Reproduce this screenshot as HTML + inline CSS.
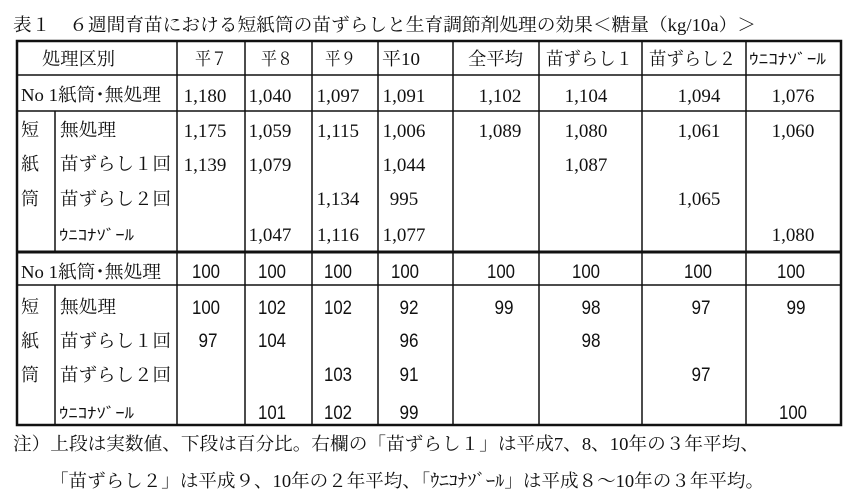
<!DOCTYPE html>
<html><head><meta charset="utf-8"><style>
html,body{margin:0;padding:0;background:#fff;}
svg{display:block}
.t{font-family:"Liberation Serif","Noto Serif CJK JP","Noto Serif CJK SC",serif;font-size:18px;fill:#111}
.n{font-family:"Liberation Serif",serif;font-size:19px;fill:#111;text-anchor:middle}
.s{font-family:"Liberation Sans",sans-serif;font-size:19px;fill:#111;text-anchor:middle}
.k{font-family:"Liberation Sans","Noto Sans CJK JP",sans-serif;font-size:15px;fill:#111}
</style></head><body>
<svg width="862" height="500" viewBox="0 0 862 500">
<text class="t" x="13" y="31" textLength="743" lengthAdjust="spacingAndGlyphs">表１　６週間育苗における短紙筒の苗ずらしと生育調節剤処理の効果＜糖量（kg/10a）＞</text>
<g stroke="#111" fill="none">
<rect x="17" y="41" width="824" height="384" stroke-width="2.5"/>
<line x1="17" y1="75" x2="841" y2="75" stroke-width="1.5"/>
<line x1="17" y1="111" x2="841" y2="111" stroke-width="1.5"/>
<line x1="17" y1="252" x2="841" y2="252" stroke-width="3"/>
<line x1="17" y1="285" x2="841" y2="285" stroke-width="1.5"/>
<line x1="55" y1="111" x2="55" y2="252" stroke-width="1.5"/>
<line x1="55" y1="285" x2="55" y2="425" stroke-width="1.5"/>
<g stroke-width="1.5">
<line x1="177" y1="41" x2="177" y2="425"/><line x1="245" y1="41" x2="245" y2="425"/>
<line x1="312" y1="41" x2="312" y2="425"/><line x1="378" y1="41" x2="378" y2="425"/>
<line x1="453" y1="41" x2="453" y2="425"/><line x1="539" y1="41" x2="539" y2="425"/>
<line x1="642" y1="41" x2="642" y2="425"/><line x1="746" y1="41" x2="746" y2="425"/>
</g></g>
<!-- header -->
<text class="t" x="42" y="65" textLength="73" lengthAdjust="spacingAndGlyphs">処理区別</text>
<text class="t" x="195" y="65" textLength="32" lengthAdjust="spacingAndGlyphs">平７</text>
<text class="t" x="261" y="65" textLength="32" lengthAdjust="spacingAndGlyphs">平８</text>
<text class="t" x="325" y="65" textLength="31" lengthAdjust="spacingAndGlyphs">平９</text>
<text class="t" x="382" y="65" textLength="38" lengthAdjust="spacingAndGlyphs">平10</text>
<text class="t" x="468" y="65" textLength="55" lengthAdjust="spacingAndGlyphs">全平均</text>
<text class="t" x="546" y="65" textLength="87" lengthAdjust="spacingAndGlyphs">苗ずらし１</text>
<text class="t" x="649" y="65" textLength="87" lengthAdjust="spacingAndGlyphs">苗ずらし２</text>
<text class="k" x="749" y="64" textLength="77" lengthAdjust="spacingAndGlyphs">ｳﾆｺﾅｿﾞｰﾙ</text>
<!-- row labels upper -->
<text class="t" x="21" y="101" textLength="140" lengthAdjust="spacingAndGlyphs">No 1紙筒･無処理</text>
<text class="t" x="21" y="136">短</text><text class="t" x="21" y="170">紙</text><text class="t" x="21" y="205">筒</text>
<text class="t" x="60" y="136" textLength="56" lengthAdjust="spacingAndGlyphs">無処理</text>
<text class="t" x="60" y="170" textLength="111" lengthAdjust="spacingAndGlyphs">苗ずらし１回</text>
<text class="t" x="60" y="205" textLength="111" lengthAdjust="spacingAndGlyphs">苗ずらし２回</text>
<text class="k" x="59" y="240" textLength="75" lengthAdjust="spacingAndGlyphs">ｳﾆｺﾅｿﾞｰﾙ</text>
<!-- row labels lower -->
<text class="t" x="21" y="278" textLength="140" lengthAdjust="spacingAndGlyphs">No 1紙筒･無処理</text>
<text class="t" x="21" y="313">短</text><text class="t" x="21" y="347">紙</text><text class="t" x="21" y="381">筒</text>
<text class="t" x="60" y="313" textLength="56" lengthAdjust="spacingAndGlyphs">無処理</text>
<text class="t" x="60" y="347" textLength="111" lengthAdjust="spacingAndGlyphs">苗ずらし１回</text>
<text class="t" x="60" y="381" textLength="111" lengthAdjust="spacingAndGlyphs">苗ずらし２回</text>
<text class="k" x="59" y="418" textLength="75" lengthAdjust="spacingAndGlyphs">ｳﾆｺﾅｿﾞｰﾙ</text>
<!-- upper numbers -->
<g class="n">
<text x="205" y="102">1,180</text><text x="270" y="102">1,040</text><text x="338" y="102">1,097</text><text x="404" y="102">1,091</text>
<text x="500" y="102">1,102</text><text x="586" y="102">1,104</text><text x="699" y="102">1,094</text><text x="793" y="102">1,076</text>
<text x="205" y="137">1,175</text><text x="270" y="137">1,059</text><text x="338" y="137">1,115</text><text x="404" y="137">1,006</text>
<text x="500" y="137">1,089</text><text x="586" y="137">1,080</text><text x="699" y="137">1,061</text><text x="793" y="137">1,060</text>
<text x="205" y="171">1,139</text><text x="270" y="171">1,079</text><text x="404" y="171">1,044</text><text x="586" y="171">1,087</text>
<text x="338" y="205">1,134</text><text x="404" y="205">995</text><text x="699" y="205">1,065</text>
<text x="270" y="241">1,047</text><text x="338" y="241">1,116</text><text x="404" y="241">1,077</text><text x="793" y="241">1,080</text>
</g>
<!-- lower numbers -->
<g class="s">
<text x="206" y="278" textLength="28" lengthAdjust="spacingAndGlyphs">100</text><text x="272" y="278" textLength="28" lengthAdjust="spacingAndGlyphs">100</text>
<text x="338" y="278" textLength="28" lengthAdjust="spacingAndGlyphs">100</text><text x="405" y="278" textLength="28" lengthAdjust="spacingAndGlyphs">100</text>
<text x="501" y="278" textLength="28" lengthAdjust="spacingAndGlyphs">100</text><text x="586" y="278" textLength="28" lengthAdjust="spacingAndGlyphs">100</text>
<text x="698" y="278" textLength="28" lengthAdjust="spacingAndGlyphs">100</text><text x="791" y="278" textLength="28" lengthAdjust="spacingAndGlyphs">100</text>
<text x="206" y="314" textLength="28" lengthAdjust="spacingAndGlyphs">100</text><text x="272" y="314" textLength="28" lengthAdjust="spacingAndGlyphs">102</text>
<text x="338" y="314" textLength="28" lengthAdjust="spacingAndGlyphs">102</text><text x="409" y="314" textLength="19" lengthAdjust="spacingAndGlyphs">92</text>
<text x="504" y="314" textLength="19" lengthAdjust="spacingAndGlyphs">99</text><text x="591" y="314" textLength="19" lengthAdjust="spacingAndGlyphs">98</text>
<text x="701" y="314" textLength="19" lengthAdjust="spacingAndGlyphs">97</text><text x="796" y="314" textLength="19" lengthAdjust="spacingAndGlyphs">99</text>
<text x="208" y="347" textLength="19" lengthAdjust="spacingAndGlyphs">97</text><text x="272" y="347" textLength="28" lengthAdjust="spacingAndGlyphs">104</text>
<text x="409" y="347" textLength="19" lengthAdjust="spacingAndGlyphs">96</text><text x="591" y="347" textLength="19" lengthAdjust="spacingAndGlyphs">98</text>
<text x="338" y="381" textLength="28" lengthAdjust="spacingAndGlyphs">103</text><text x="409" y="381" textLength="19" lengthAdjust="spacingAndGlyphs">91</text>
<text x="701" y="381" textLength="19" lengthAdjust="spacingAndGlyphs">97</text>
<text x="272" y="419" textLength="28" lengthAdjust="spacingAndGlyphs">101</text><text x="338" y="419" textLength="28" lengthAdjust="spacingAndGlyphs">102</text>
<text x="409" y="419" textLength="19" lengthAdjust="spacingAndGlyphs">99</text><text x="793" y="419" textLength="28" lengthAdjust="spacingAndGlyphs">100</text>
</g>
<text class="t" x="13" y="450" textLength="746" lengthAdjust="spacingAndGlyphs">注）上段は実数値、下段は百分比。右欄の「苗ずらし１」は平成7、8、10年の３年平均、</text>
<text class="t" x="50" y="487" textLength="714" lengthAdjust="spacingAndGlyphs">「苗ずらし２」は平成９、10年の２年平均、「ｳﾆｺﾅｿﾞｰﾙ」は平成８～10年の３年平均。</text>
</svg>
</body></html>
